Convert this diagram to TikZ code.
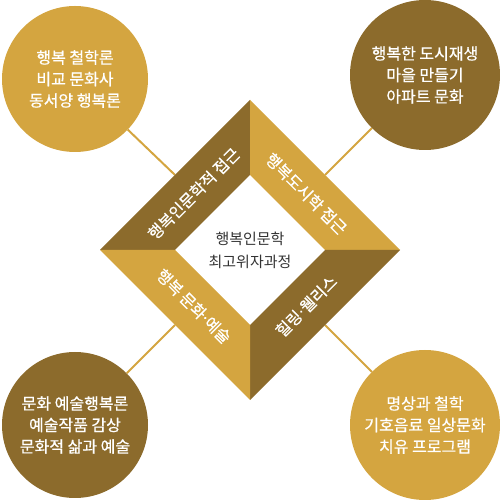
\documentclass[tikz,border=0pt]{standalone}
\usepackage{fontspec}
\setmainfont{Noto Sans CJK KR}
\newfontfamily\medfont{Noto Sans CJK KR}[FakeBold=0.6]
\definecolor{gold}{RGB}{212,165,64}
\definecolor{brown}{RGB}{140,107,44}
\definecolor{centertext}{RGB}{51,51,51}
\newcommand{\mdot}{\kern-2pt·\kern-2pt}
\begin{document}
\begin{tikzpicture}[x=1pt,y=1pt,
  bubble/.style={circle,inner sep=0pt,text=white,align=center,
     font=\medfont\fontsize{16}{21.5}\selectfont},
  bandtext/.style={text=white,inner sep=0pt,font=\medfont\fontsize{16}{18}\selectfont},
  link/.style={draw=gold,line width=2pt}]
\useasboundingbox (0,0) rectangle (500,500);
% outer and inner diamond corners
\coordinate (T) at (250,400); \coordinate (R) at (400,250);
\coordinate (B) at (250,100); \coordinate (L) at (100,250);
\coordinate (t) at (250,325); \coordinate (r) at (325,250);
\coordinate (b) at (250,175); \coordinate (l) at (175,250);
% connector ends on the outer edges
\coordinate (mTL) at (175,325); \coordinate (mTR) at (325,325);
\coordinate (mBL) at (175,175); \coordinate (mBR) at (325,175);
% circles
\node[bubble,fill=gold,minimum size=146pt] (cTL) at (75,421) {행복 철학론\\비교 문화사\\동서양 행복론};
\node[bubble,fill=brown,minimum size=150pt] (cTR) at (425,425) {행복한 도시재생\\마을 만들기\\아파트 문화};
\node[bubble,fill=brown,minimum size=146pt] (cBL) at (75,75) {문화 예술행복론\\예술작품 감상\\문화적 삶과 예술};
\node[bubble,fill=gold,minimum size=150pt] (cBR) at (425,75) {명상과 철학\\기호음료 일상문화\\치유 프로그램};
% connectors
\draw[link] (cTL) -- (mTL);
\draw[link] (cTR) -- (mTR);
\draw[link] (cBL) -- (mBL);
\draw[link] (cBR) -- (mBR);
% bands
\fill[brown] (L) -- (T) -- (t) -- (l) -- cycle;
\fill[gold] (T) -- (R) -- (r) -- (t) -- cycle;
\fill[brown] (R) -- (B) -- (b) -- (r) -- cycle;
\fill[gold] (B) -- (L) -- (l) -- (b) -- cycle;
% band labels
\node[bandtext,rotate=45] (lTL) at (193.75,306.25) {행복인문학적 접근};
\node[bandtext,rotate=-45] (lTR) at (306.25,306.25) {행복도시학 접근};
\node[bandtext,rotate=-45] (lBL) at (193.75,193.75) {행복 문화\mdot 예술};
\node[bandtext,rotate=45] (lBR) at (306.25,193.75) {힐링\mdot 웰리스};
% centre
\node[text=centertext,align=center,font=\fontsize{15}{23}\selectfont] (ctr) at (250,250) {행복인문학\\최고위자과정};
\end{tikzpicture}
\end{document}
